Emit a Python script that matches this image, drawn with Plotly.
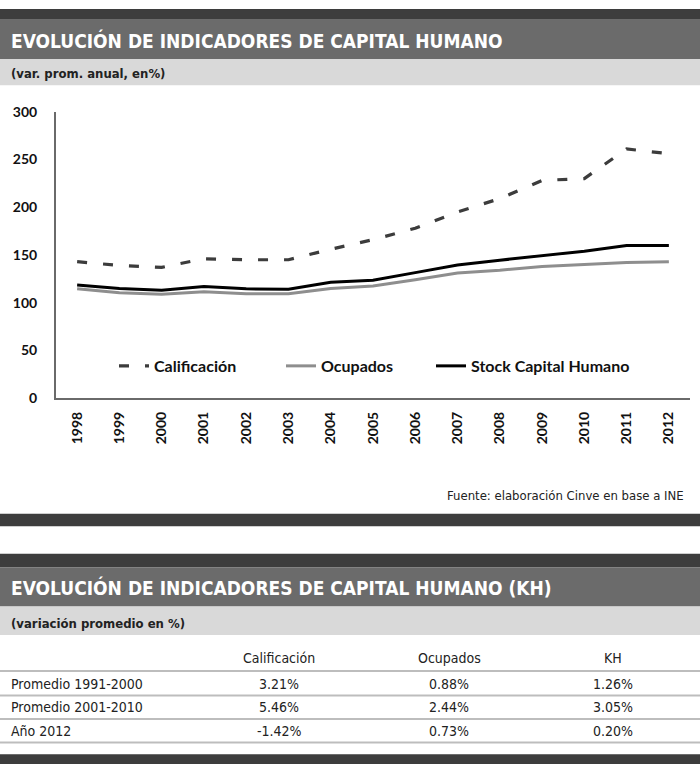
import plotly.graph_objects as go

# ---------------- data ----------------
years = [str(y) for y in range(1998, 2013)]
calificacion = [143, 139, 137, 146, 145, 145, 156, 166, 178, 195, 209, 228, 230, 261, 256]
ocupados = [114.5, 110.5, 109, 111.5, 109.5, 109.5, 115, 117.5, 124, 131, 134, 138, 140, 142, 143]
stock_kh = [118.5, 115, 113, 117, 114.5, 114, 121.5, 123.5, 131.5, 139.5, 144.5, 149.5, 154, 160, 160]
y_ticks = [0, 50, 100, 150, 200, 250, 300]

series_names = ["Calificación", "Ocupados", "Stock Capital Humano"]

title_1 = "EVOLUCIÓN DE INDICADORES DE CAPITAL HUMANO"
subtitle_1 = "(var. prom. anual, en%)"
source_text = "Fuente: elaboración Cinve en base a INE"
title_2 = "EVOLUCIÓN DE INDICADORES DE CAPITAL HUMANO (KH)"
subtitle_2 = "(variación promedio en %)"

table_columns = ["Calificación", "Ocupados", "KH"]
table_rows = ["Promedio 1991-2000", "Promedio 2001-2010", "Año 2012"]
table_calificacion = ["3.21%", "5.46%", "-1.42%"]
table_ocupados = ["0.88%", "2.44%", "0.73%"]
table_kh = ["1.26%", "3.05%", "0.20%"]

# ---------------- layout helpers ----------------
W, H = 700, 772
def px(x):
    return x / W
def py(y):
    return 1 - y / H

COND = "DejaVu Sans Condensed, Roboto, sans-serif"
CHART = "Lato, Open Sans, sans-serif"

fig = go.Figure()

fig.add_trace(go.Scatter(
    x=years, y=calificacion, name=series_names[0], mode="lines",
    line=dict(color="#3c3c3c", width=3.2, dash="10px,16px"),
    legendwidth=122,
))
fig.add_trace(go.Scatter(
    x=years, y=ocupados, name=series_names[1], mode="lines",
    line=dict(color="#8e8e8e", width=3),
    legendwidth=105,
))
fig.add_trace(go.Scatter(
    x=years, y=stock_kh, name=series_names[2], mode="lines",
    line=dict(color="#000000", width=3),
))

shapes = []
annotations = []

def band(y0, y1, color):
    shapes.append(dict(type="rect", xref="paper", yref="paper",
                       x0=0, x1=1, y0=py(y1), y1=py(y0),
                       fillcolor=color, line=dict(width=0), layer="below"))

def hline(y, color="#bdbdbd", width=2):
    shapes.append(dict(type="line", xref="paper", yref="paper",
                       x0=0, x1=1, y0=py(y), y1=py(y),
                       line=dict(color=color, width=width)))

def text(x, y, s, size, color="#222", family=COND, xanchor="left", weight="normal"):
    annotations.append(dict(text=s, xref="paper", yref="paper",
                            x=px(x), y=py(y), xanchor=xanchor, yanchor="middle",
                            showarrow=False,
                            font=dict(family=family, size=size, color=color, weight=weight)))

# top block
band(0, 11, "#3d3d3d")
band(11, 51, "#6b6b6b")
band(51, 78, "#d9d9d9")
text(9, 32, title_1, 19, "#ffffff", weight="bold")
text(9, 66, subtitle_1, 13, "#222222", weight="bold")

# source + separators
text(686, 497, source_text, 13, "#222222", xanchor="right")
band(516, 529, "#3d3d3d")
band(557, 571, "#3d3d3d")
band(571, 611, "#6b6b6b")
band(611, 640, "#d9d9d9")
text(9, 592, title_2, 19, "#ffffff", weight="bold")
text(9, 628, subtitle_2, 13, "#222222", weight="bold")

# table
col_x = [279, 449, 613]
for cx, c in zip(col_x, table_columns):
    text(cx, 664, c, 14, "#222222", xanchor="center")
row_y = [690, 714, 738]
for ry, r, a, b, c in zip(row_y, table_rows, table_calificacion, table_ocupados, table_kh):
    text(9, ry, r, 14, "#222222")
    text(col_x[0], ry, a, 14, "#222222", xanchor="center")
    text(col_x[1], ry, b, 14, "#222222", xanchor="center")
    text(col_x[2], ry, c, 14, "#222222", xanchor="center")
for ly in [677, 702, 726, 750]:
    hline(ly)
band(762, 772, "#3d3d3d")

fig.update_layout(
    width=W, height=H,
    margin=dict(l=0, r=0, t=0, b=0),
    paper_bgcolor="#ffffff",
    plot_bgcolor="#ffffff",
    shapes=shapes,
    annotations=annotations,
    showlegend=True,
    legend=dict(
        orientation="h",
        x=px(114), y=py(365), xanchor="left", yanchor="middle",
        bgcolor="rgba(0,0,0,0)",
        font=dict(family=CHART, size=16, color="#111111", weight="bold"),
        tracegroupgap=0,
    ),
    xaxis=dict(
        domain=[px(56), px(690)],
        type="category",
        range=[-0.5, 14.5],
        showgrid=False,
        showline=True, linecolor="#6a6a6a", linewidth=2,
        ticks="", tickangle=-90,
        tickfont=dict(family=CHART, size=14, color="#111111", weight="bold"),
        ticklabelstandoff=6,
        zeroline=False,
    ),
    yaxis=dict(
        domain=[py(398), py(105)],
        range=[0, 300],
        tickvals=y_ticks,
        showgrid=False,
        showline=True, linecolor="#6a6a6a", linewidth=2,
        ticks="",
        tickfont=dict(family=CHART, size=14, color="#111111", weight="bold"),
        ticklabelstandoff=14,
        zeroline=False,
    ),
)

fig.write_html(
    "out.html",
    config={"displayModeBar": False},
    post_script="document.body.style.margin='0';document.body.style.overflow='hidden';",
)
